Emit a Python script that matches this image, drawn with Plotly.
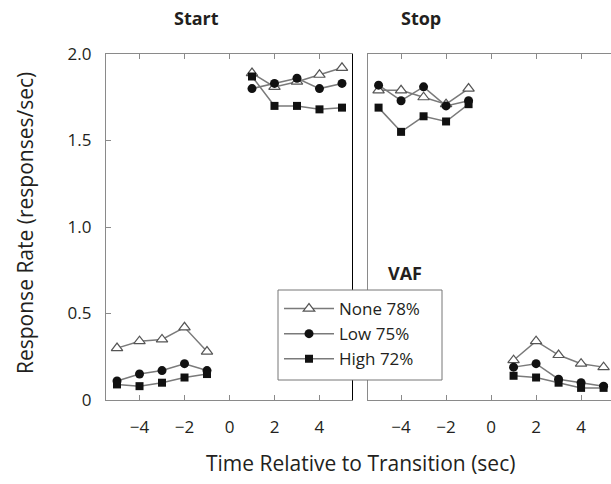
import plotly.graph_objects as go

# ---- data ----
t_before = [-5, -4, -3, -2, -1]
t_after = [1, 2, 3, 4, 5]
series_names = ["None 78%", "Low 75%", "High 72%"]

start_none_before = [0.30, 0.34, 0.35, 0.42, 0.28]
start_none_after = [1.89, 1.81, 1.84, 1.88, 1.92]
start_low_before = [0.11, 0.15, 0.17, 0.21, 0.17]
start_low_after = [1.80, 1.83, 1.86, 1.80, 1.83]
start_high_before = [0.09, 0.08, 0.10, 0.13, 0.15]
start_high_after = [1.87, 1.70, 1.70, 1.68, 1.69]

stop_none_before = [1.79, 1.79, 1.75, 1.71, 1.80]
stop_none_after = [0.23, 0.34, 0.26, 0.21, 0.19]
stop_low_before = [1.82, 1.73, 1.81, 1.70, 1.73]
stop_low_after = [0.19, 0.21, 0.12, 0.10, 0.08]
stop_high_before = [1.69, 1.55, 1.64, 1.61, 1.71]
stop_high_after = [0.14, 0.13, 0.10, 0.07, 0.07]

y_ticks = [0, 0.5, 1.0, 1.5, 2.0]
y_ticklabels = ["0", "0.5", "1.0", "1.5", "2.0"]
x_ticks = [-4, -2, 0, 2, 4]
x_ticklabels = ["\u22124", "\u22122", "0", "2", "4"]

FONT = "Open Sans"
TXT = "#231f20"
LINE_GRAY = "#7a7a7a"
AX_GRAY = "#8a8a8a"

styles = [
    dict(symbol="triangle-up", size=10, color="white", line=dict(color="#555", width=1.2)),
    dict(symbol="circle", size=9, color="#111", line=dict(color="#111", width=0)),
    dict(symbol="square", size=8, color="#111", line=dict(color="#111", width=0)),
]

start_sets = [(start_none_before, start_none_after),
              (start_low_before, start_low_after),
              (start_high_before, start_high_after)]
stop_sets = [(stop_none_before, stop_none_after),
             (stop_low_before, stop_low_after),
             (stop_high_before, stop_high_after)]

fig = go.Figure()
xs = t_before + [None] + t_after
for i, name in enumerate(series_names):
    b, a = start_sets[i]
    fig.add_trace(go.Scatter(x=xs, y=b + [None] + a, mode="lines+markers", name=name,
                             line=dict(color=LINE_GRAY, width=1.5), marker=styles[i],
                             connectgaps=False, xaxis="x", yaxis="y", showlegend=True))
for i, name in enumerate(series_names):
    b, a = stop_sets[i]
    fig.add_trace(go.Scatter(x=xs, y=b + [None] + a, mode="lines+markers", name=name,
                             line=dict(color=LINE_GRAY, width=1.5), marker=styles[i],
                             connectgaps=False, xaxis="x2", yaxis="y2", showlegend=False))

W, H = 611, 484
L, R, T, B = 106, 0, 54, 84
pw = W - L - R
ph = H - T - B

def px(xp):
    return (xp - L) / pw

def py(yp):
    return (H - B - yp) / ph

tickfont = dict(family=FONT, size=17, color=TXT)
xcommon = dict(tickvals=x_ticks, ticktext=x_ticklabels, ticks="inside", ticklen=5,
               tickcolor=AX_GRAY, showline=True, linecolor=AX_GRAY, linewidth=1.2,
               mirror="ticks", showgrid=False, zeroline=False, tickfont=tickfont,
               ticklabelstandoff=11)
fig.update_layout(
    width=W, height=H,
    margin=dict(l=L, r=R, t=T, b=B),
    paper_bgcolor="white", plot_bgcolor="white",
    font=dict(family=FONT, color=TXT),
    xaxis=dict(domain=[0, px(353)], range=[-5.49, 5.49], anchor="y", **xcommon),
    xaxis2=dict(domain=[px(368), 1], range=[-5.47, 5.33], anchor="y2", **xcommon),
    yaxis=dict(domain=[0, 1], range=[0, 2.0], tickvals=y_ticks, ticktext=y_ticklabels,
               ticks="inside", ticklen=5, tickcolor=AX_GRAY, showline=True,
               linecolor=AX_GRAY, linewidth=1.2, showgrid=False, zeroline=False,
               tickfont=tickfont, anchor="x", ticklabelstandoff=10),
    yaxis2=dict(domain=[0, 1], range=[0, 2.0], tickvals=y_ticks, showticklabels=False,
                ticks="", showline=True, linecolor=AX_GRAY, linewidth=1.2,
                showgrid=False, zeroline=False, anchor="x2"),
    legend=dict(x=px(279), y=py(291), xanchor="left", yanchor="top",
                bgcolor="rgba(0,0,0,0)", borderwidth=0,
                font=dict(family=FONT, size=17, color=TXT), tracegroupgap=0,
                itemwidth=50),
    showlegend=True,
)

# right border of the Start panel
fig.add_shape(type="line", xref="x", yref="paper", x0=5.49, x1=5.49, y0=0, y1=1,
              line=dict(color="black", width=2), layer="above")
# legend frame (white box covering the panel borders)
fig.add_shape(type="rect", xref="paper", yref="paper",
              x0=px(278), x1=px(442), y0=py(380), y1=py(290),
              fillcolor="white", line=dict(color="#777", width=1), layer="above")

ann = [
    dict(text="<b>Start</b>", x=px(196.5), y=py(18)),
    dict(text="<b>Stop</b>", x=px(421), y=py(18)),
    dict(text="<b>VAF</b>", x=px(405), y=py(273)),
]
for a in ann:
    fig.add_annotation(xref="paper", yref="paper", showarrow=False,
                       font=dict(family=FONT, size=18, color=TXT),
                       xanchor="center", yanchor="middle", **a)
fig.add_annotation(text="Response Rate (responses/sec)", xref="paper", yref="paper",
                   x=px(25), y=py(223), textangle=-90, showarrow=False,
                   font=dict(family=FONT, size=21, color=TXT),
                   xanchor="center", yanchor="middle")
fig.add_annotation(text="Time Relative to Transition (sec)", xref="paper", yref="paper",
                   x=px(360), y=py(463), showarrow=False,
                   font=dict(family=FONT, size=21, color=TXT),
                   xanchor="center", yanchor="middle")

fig.write_html("out.html", config={"displayModeBar": False},
               post_script="document.body.style.margin='0';")
